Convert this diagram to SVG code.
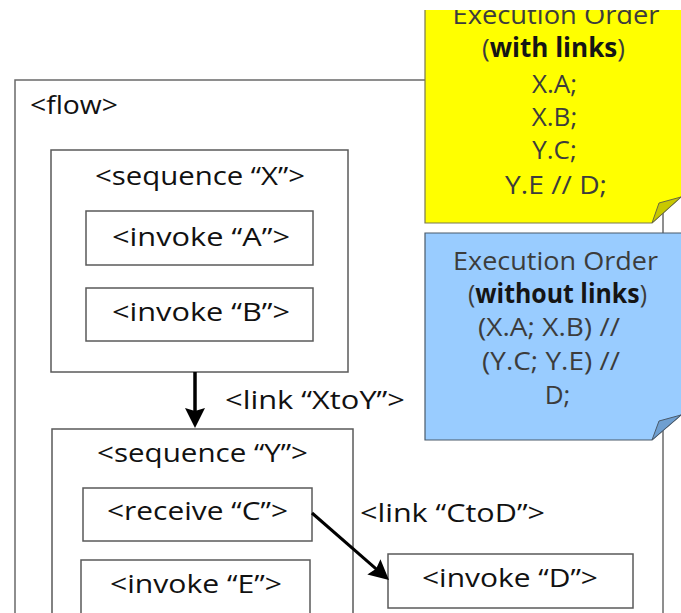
<svg xmlns="http://www.w3.org/2000/svg" width="681" height="613" viewBox="0 0 681 613">
<style>
.box{fill:#fff;stroke:#5a5a5a;stroke-width:1.5}
.t{font-family:"Open Sans","DejaVu Sans",sans-serif;font-size:26px;fill:#111}
.n{font-family:"Open Sans","DejaVu Sans",sans-serif;font-size:26px;fill:#3c3c3c;text-anchor:middle}
.b{font-weight:bold;fill:#151515}
.c{text-anchor:middle}
.conn{stroke:#000;fill:none}
</style>
<defs>
<marker id="ah" viewBox="0 0 20 20" refX="6" refY="10" markerWidth="20" markerHeight="20" markerUnits="userSpaceOnUse" orient="auto">
<path d="M0,0 L20,10 L0,20 L3,10 Z" fill="#000"/>
</marker>
<clipPath id="top"><rect x="0" y="10" width="681" height="603"/></clipPath>
</defs>

<g id="flow">
<rect class="box" x="15" y="80" width="648" height="620" style="stroke:#6a6a6a"/>
<text class="t" x="30" y="114" textLength="88" lengthAdjust="spacingAndGlyphs">&lt;flow&gt;</text>
</g>

<g id="seqX">
<rect class="box" x="51" y="150" width="297" height="222"/>
<text class="t c" x="200" y="185" textLength="210" lengthAdjust="spacingAndGlyphs">&lt;sequence “X”&gt;</text>
</g>
<g id="invokeA">
<rect class="box" x="86" y="211" width="227" height="54"/>
<text class="t c" x="201" y="246" textLength="178" lengthAdjust="spacingAndGlyphs">&lt;invoke “A”&gt;</text>
</g>
<g id="invokeB">
<rect class="box" x="86" y="288" width="227" height="53"/>
<text class="t c" x="201" y="321" textLength="178" lengthAdjust="spacingAndGlyphs">&lt;invoke “B”&gt;</text>
</g>

<g id="seqY">
<rect class="box" x="52" y="429" width="301" height="260"/>
<text class="t c" x="202.5" y="462" textLength="211" lengthAdjust="spacingAndGlyphs">&lt;sequence “Y”&gt;</text>
</g>
<g id="receiveC">
<rect class="box" x="83" y="488" width="229" height="53"/>
<text class="t c" x="197.5" y="520" textLength="181" lengthAdjust="spacingAndGlyphs">&lt;receive “C”&gt;</text>
</g>
<g id="invokeE">
<rect class="box" x="81" y="560" width="229" height="80"/>
<text class="t c" x="196" y="593" textLength="172" lengthAdjust="spacingAndGlyphs">&lt;invoke “E”&gt;</text>
</g>
<g id="invokeD">
<rect class="box" x="388" y="554" width="245" height="54"/>
<text class="t c" x="510" y="587" textLength="176" lengthAdjust="spacingAndGlyphs">&lt;invoke “D”&gt;</text>
</g>

<g id="connectors">
<line class="conn" x1="195" y1="372" x2="195" y2="414" stroke-width="3.5" marker-end="url(#ah)"/>
<text class="t" x="225" y="409" textLength="180" lengthAdjust="spacingAndGlyphs">&lt;link “XtoY”&gt;</text>
<line class="conn" x1="312" y1="513" x2="378.4" y2="570.8" stroke-width="3" marker-end="url(#ah)"/>
<text class="t" x="360" y="522" textLength="185" lengthAdjust="spacingAndGlyphs">&lt;link “CtoD”&gt;</text>
</g>

<g id="noteWith" clip-path="url(#top)">
<path d="M425,-5 L690,-5 L690,197 L681,197 L652,223 L425,223 Z" fill="#ffff00" stroke="#7a7a50" stroke-width="1.2"/>
<path d="M652,223 L659,203 L681,197 Z" fill="#c8c800" stroke="#6a6a40" stroke-width="1"/>
<text class="n" x="556" y="24" textLength="207" lengthAdjust="spacingAndGlyphs">Execution Order</text>
<text class="n" x="553.5" y="57" textLength="143" lengthAdjust="spacingAndGlyphs">(<tspan class="b">with links</tspan>)</text>
<text class="n" x="554.5" y="93">X.A;</text>
<text class="n" x="554.5" y="126">X.B;</text>
<text class="n" x="554.5" y="159">Y.C;</text>
<text class="n" x="556" y="194" textLength="102" lengthAdjust="spacingAndGlyphs">Y.E // D;</text>
</g>

<g id="noteWithout">
<path d="M425,233 L690,233 L690,415 L681,415 L652,440 L425,440 Z" fill="#99ccff" stroke="#4a5a6a" stroke-width="1.2"/>
<path d="M652,440 L659,421 L681,415 Z" fill="#6f9fd0" stroke="#4a5a6a" stroke-width="1"/>
<text class="n" x="555.5" y="270" textLength="205" lengthAdjust="spacingAndGlyphs">Execution Order</text>
<text class="n" x="557.5" y="303" textLength="179" lengthAdjust="spacingAndGlyphs">(<tspan class="b">without links</tspan>)</text>
<text class="n" x="549" y="336" textLength="142" lengthAdjust="spacingAndGlyphs">(X.A; X.B) //</text>
<text class="n" x="551" y="370" textLength="138" lengthAdjust="spacingAndGlyphs">(Y.C; Y.E) //</text>
<text class="n" x="557.5" y="404">D;</text>
</g>
</svg>
